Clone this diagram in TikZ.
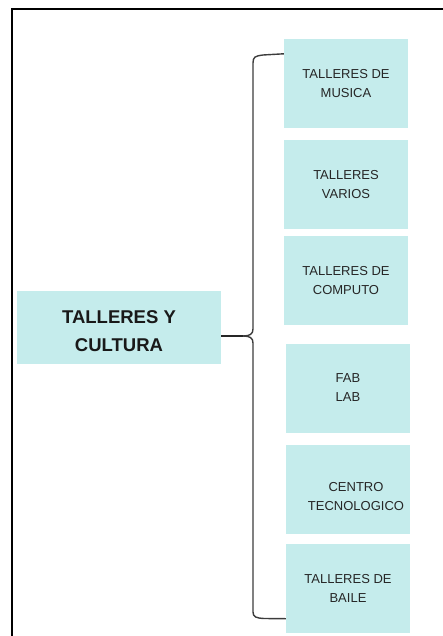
\documentclass[tikz,border=0pt]{standalone}
\usepackage{fontspec}
\setmainfont{Liberation Sans}
\definecolor{boxcyan}{RGB}{197,236,236}
\definecolor{bracegray}{RGB}{60,60,60}
\tikzset{
    tema/.style={fill=boxcyan, minimum width=204pt, minimum height=73pt, inner sep=0pt,
        align=center, font=\bfseries\fontsize{18.5}{28}\selectfont, text=black!90},
    taller/.style={fill=boxcyan, minimum width=124pt, minimum height=89pt, inner sep=0pt,
        align=center, font=\fontsize{13}{19}\selectfont, text=black!85},
    llave/.style={draw=bracegray, line width=1.4pt}
}
\begin{document}
\begin{tikzpicture}[x=1pt, y=-1pt]
            \useasboundingbox (0,0) rectangle (442,636);
            % marco
            \draw[line width=2pt] (12,660) -- (12,9) -- (460,9);

            % tema principal
            \node[tema] (main) at (119,327.5) {\raisebox{-4.5pt}[\height][\depth]{\begin{tabular}{@{}c@{}}TALLERES Y\\CULTURA\end{tabular}}};

            % talleres
            \node[taller] (b1) at (346,83.5) {TALLERES DE\\MUSICA};
            \node[taller] (b2) at (346,184.5) {TALLERES\\VARIOS};
            \node[taller] (b3) at (346,280.5) {TALLERES DE\\COMPUTO};
            \node[taller] (b4) at (348,388) {FAB\\LAB};
            \node[taller] (b5) at (348,489) {\hspace*{16pt}\raisebox{-8pt}[\height][\depth]{\begin{tabular}{@{}c@{}}CENTRO\\TECNOLOGICO\end{tabular}}};
            \node[taller] (b6) at (348,588) {TALLERES DE\\BAILE};

            % llave
            \coordinate (tip) at (243,336);
            \draw[llave] ([yshift=-15pt]b1.north west) -- (263,55) .. controls (255,56) and (253,57) .. (253,63)
                -- (253,329) .. controls (253,334) and (250,336) .. (tip);
            \draw[llave] (tip) .. controls (250,336) and (253,338) .. (253,343)
                -- (253,612) .. controls (253,617) and (256,618) .. (264,618.5) -- ([yshift=14pt]b6.south west);
            \draw[llave, draw=black!85, line width=1.8pt] ([yshift=-8.5pt]main.east) -- (tip);

        \end{tikzpicture}
\end{document}
